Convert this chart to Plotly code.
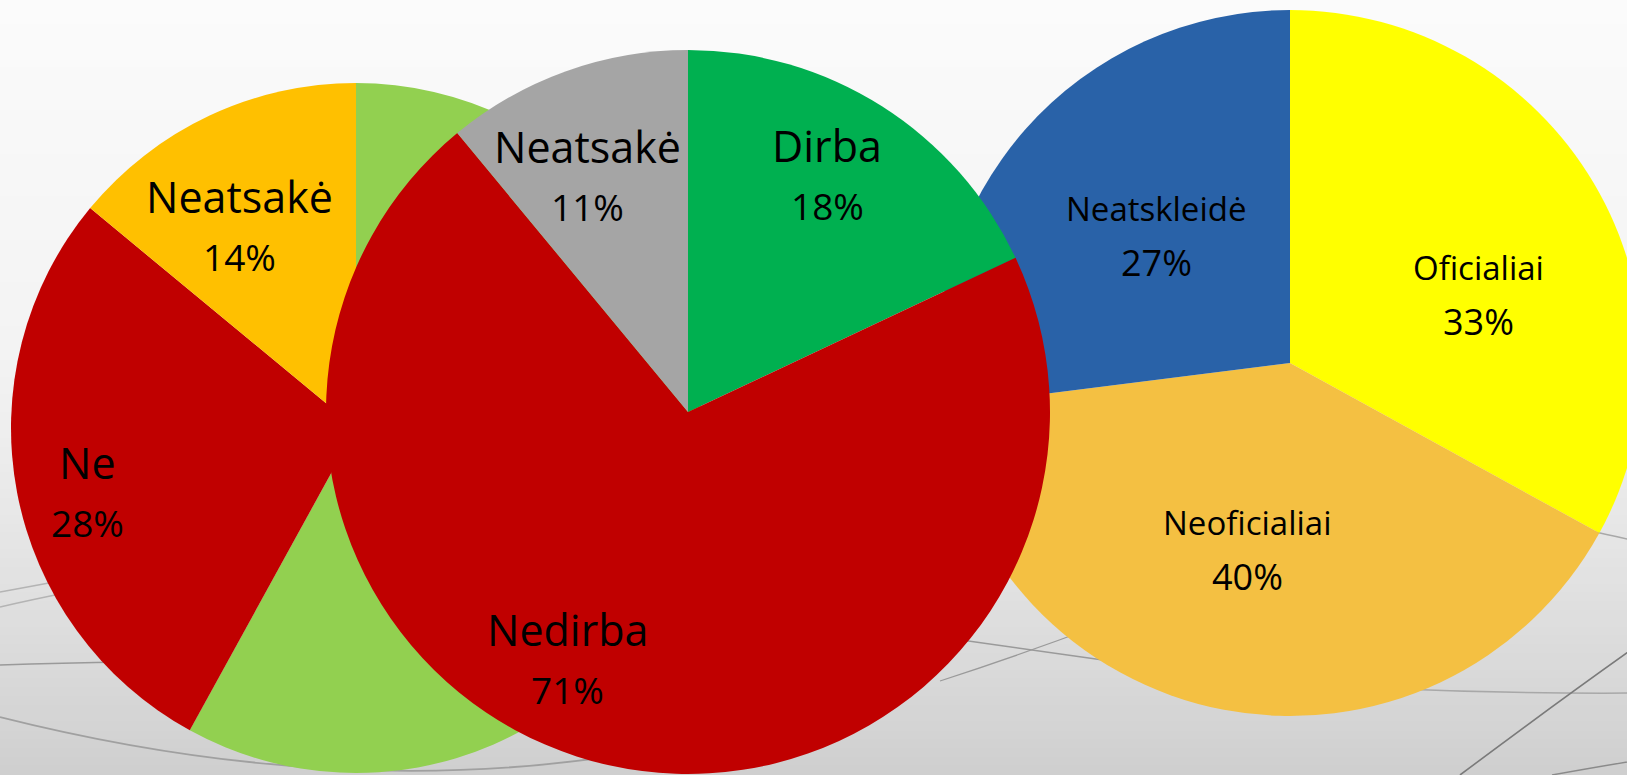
import math
import plotly.graph_objects as go

W, H = 1645, 775   # figure slightly wider than the window so the right pie is cut off

# ---------------- data ----------------
left_labels = ["Taip", "Ne", "Neatsakė"]
left_values = [58, 28, 14]
left_show = [False, True, True]

mid_labels = ["Dirba", "Nedirba", "Neatsakė"]
mid_values = [18, 71, 11]
mid_show = [True, True, True]

right_labels = ["Oficialiai", "Neoficialiai", "Neatskleidė"]
right_values = [33, 40, 27]
right_show = [True, True, True]

# ---------------- styles ----------------
left_colors = ["#92D050", "#C00000", "#FFC000"]
mid_colors = ["#00B050", "#C00000", "#A5A5A5"]
right_colors = ["#FFFF00", "#F4C042", "#2962A8"]

# pie geometry in pixels: centre x, centre y, radius
left_geo = (356, 428, 345)
mid_geo = (688, 412, 362)
right_geo = (1290, 363, 353)

# label placement: radial fraction and angular tweak (deg) per slice
left_lab_r = [0.7, 0.80, 0.675]
left_lab_da = [0, -2.8, -4.7]
mid_lab_r = [0.757, 0.762, 0.707]
mid_lab_da = [-1.9, 13.4, -3.2]
right_lab_r = [0.569, 0.541, 0.523]
right_lab_da = [10.8, 2.2, 2.1]

FONT = "Open Sans"


def domain(cx, cy, r):
    x0, x1 = max(0, (cx - r) / W), min(1, (cx + r) / W)
    y0, y1 = max(0, 1 - (cy + r) / H), min(1, 1 - (cy - r) / H)
    return dict(x=[x0, x1], y=[y0, y1])


def actual_geo(cx, cy, r):
    d = domain(cx, cy, r)
    wpx = (d["x"][1] - d["x"][0]) * W
    hpx = (d["y"][1] - d["y"][0]) * H
    rr = min(wpx, hpx) / 2
    acx = (d["x"][0] + d["x"][1]) / 2 * W
    acy = (1 - (d["y"][0] + d["y"][1]) / 2) * H
    return acx, acy, rr


def gray(v):
    v = int(round(v))
    return f"rgb({v},{v},{v})"


fig = go.Figure()

# background gradient as horizontal bands
n = 90
for i in range(n):
    t = (i + 0.5) / n
    if t < 0.45:
        v = 251 - 8 * (t / 0.45)
    else:
        v = 243 - 36 * ((t - 0.45) / 0.55) ** 1.2
    fig.add_shape(type="rect", xref="paper", yref="paper",
                  x0=0, x1=1, y0=1 - (i + 1) / n, y1=1 - i / n + 0.002,
                  fillcolor=gray(v), line_width=0, layer="below")


def P(x, y):
    return f"{x / W:.5f},{1 - y / H:.5f}"


arcs = [
    ((0, 592), (28, 587), (70, 579), "#b4b4b4", 1.5),
    ((0, 607), (30, 600), (70, 592), "#b4b4b4", 1.5),
    ((0, 665), (60, 663), (130, 662), "#9a9a9a", 1.5),
    ((0, 717), (330, 800), (620, 755), "#a0a0a0", 1.8),
    ((940, 637), (1020, 648), (1110, 661), "#9a9a9a", 1.3),
    ((940, 681), (1020, 655), (1100, 625), "#9a9a9a", 1.3),
    ((1400, 689), (1520, 694), (1645, 693), "#a8a8a8", 1.5),
    ((1460, 775), (1560, 700), (1645, 640), "#7a7a7a", 1.6),
    ((1552, 775), (1590, 768), (1645, 759), "#8a8a8a", 1.4),
    ((1590, 531), (1610, 535), (1645, 543), "#a8a8a8", 1.4),
]
for p0, pc, p1, col, w in arcs:
    fig.add_shape(type="path", xref="paper", yref="paper",
                  path=f"M {P(*p0)} Q {P(*pc)} {P(*p1)}",
                  line=dict(color=col, width=w), layer="below")


def add_pie(labels, values, colors, geo):
    fig.add_trace(go.Pie(
        labels=labels, values=values, sort=False, direction="clockwise",
        rotation=0, marker=dict(colors=colors, line=dict(width=0)),
        textinfo="none", hoverinfo="label+percent", showlegend=False,
        domain=domain(*geo),
    ))


def add_labels(labels, values, show, geo, rfrac, dang,
               lab_size, pct_size, gap):
    acx, acy, ar = actual_geo(*geo)
    total = sum(values)
    cum = 0
    for lab, v, s, rf, da in zip(labels, values, show, rfrac, dang):
        mid = (cum + v / 2) / total * 360 + da
        cum += v
        if not s:
            continue
        th = math.radians(mid)
        x = acx + rf * ar * math.sin(th)
        y = acy - rf * ar * math.cos(th)
        pct = f"{round(v / total * 100)}%"
        fig.add_annotation(x=x / W, y=1 - (y - gap / 2) / H, xref="paper", yref="paper",
                           text=lab, showarrow=False, xanchor="center", yanchor="middle",
                           font=dict(family=FONT, size=lab_size, color="black"))
        fig.add_annotation(x=x / W, y=1 - (y + gap / 2) / H, xref="paper", yref="paper",
                           text=pct, showarrow=False, xanchor="center", yanchor="middle",
                           font=dict(family=FONT, size=pct_size, color="black"))


add_pie(left_labels, left_values, left_colors, left_geo)
add_pie(right_labels, right_values, right_colors, right_geo)
add_pie(mid_labels, mid_values, mid_colors, mid_geo)

add_labels(left_labels, left_values, left_show, left_geo,
           left_lab_r, left_lab_da, 43, 37, 60)
add_labels(mid_labels, mid_values, mid_show, mid_geo,
           mid_lab_r, mid_lab_da, 43, 37, 60)
add_labels(right_labels, right_values, right_show, right_geo,
           right_lab_r, right_lab_da, 33, 36, 54)

fig.update_layout(
    width=W, height=H,
    margin=dict(l=0, r=0, t=0, b=0),
    paper_bgcolor="white", plot_bgcolor="white",
    xaxis=dict(visible=False), yaxis=dict(visible=False),
)

fig.write_html(
    "out.html",
    config={"displayModeBar": False},
    post_script="document.body.style.margin='0';document.body.style.overflow='hidden';",
)
